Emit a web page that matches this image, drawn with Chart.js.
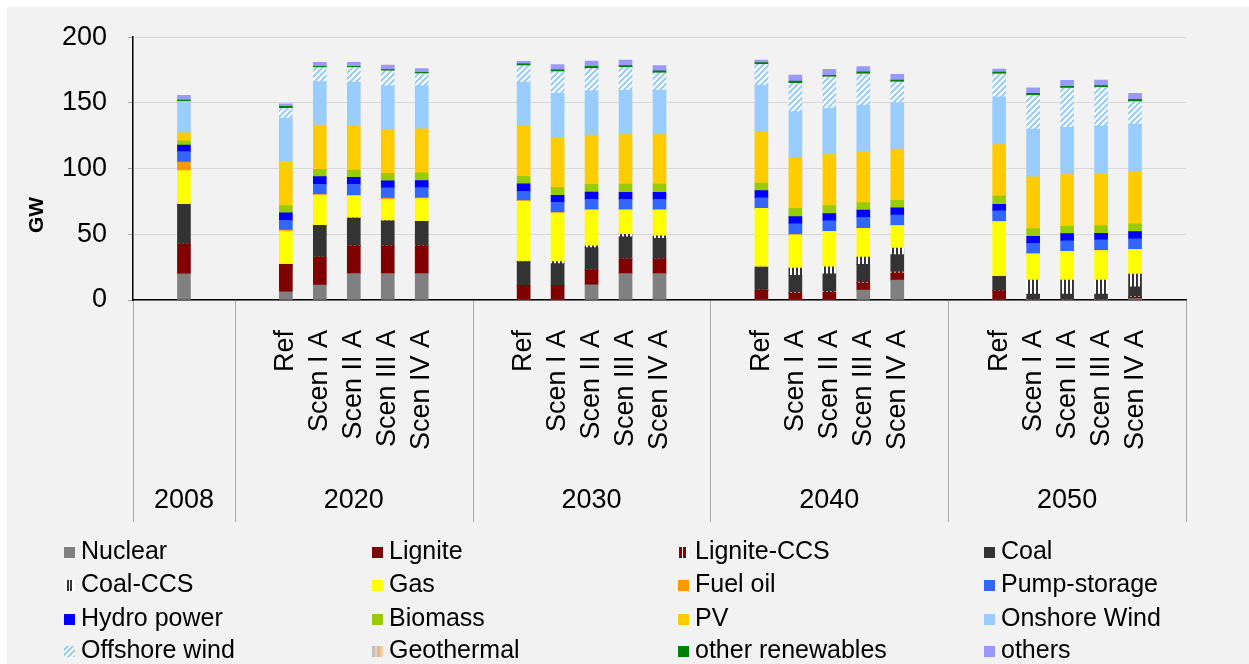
<!DOCTYPE html>
<html>
<head>
<meta charset="utf-8">
<script src="https://cdn.jsdelivr.net/npm/chart.js@4.4.1/dist/chart.umd.min.js"></script>
<style>
  body { margin: 0; background: #fff; font-family: "Liberation Sans", Arial, sans-serif; }
  #wrap { position: relative; width: 1249px; height: 664px; overflow: hidden; }
  #bg { position: absolute; left: 7px; top: 7px; right: 0; bottom: 0; background: #f2f2f2; }
  #myChart { position: absolute; left: 0; top: 0; }
  .leg { position: absolute; font-size: 25px; line-height: 30px; color: #000; white-space: nowrap; }
  .leg i { display: inline-block; width: 11px; height: 11px; margin-right: 6px; vertical-align: 1px; }
</style>
</head>
<body>
<div id="wrap">
  <div id="bg"></div>
  <canvas id="myChart" width="1249" height="664"></canvas>
  <div id="legend"></div>
</div>
<script>
// groups and bar names
var groups = ["2008", "2020", "2030", "2040", "2050"];
var scenarios = ["Ref", "Scen I A", "Scen II A", "Scen III A", "Scen IV A"];

// GW per bar: 2008, then Ref..Scen IV A for 2020, 2030, 2040, 2050
var nuclear    = [20, 6.3, 11.3, 20.1, 20.1, 20.1,  0, 0, 11.6, 20.1, 20.1,  0, 0, 0, 7.5, 15.1,  0, 0, 0, 0, 1];
var lignite    = [22.6, 20.9, 21.4, 21.1, 21.1, 21.1,  11.1, 11.1, 11.6, 11.1, 11.1,  7.5, 5, 5.8, 5.5, 5.5,  7, 0, 0, 0, 1];
var ligniteCCS = [0, 0, 0, 0, 0, 0,  0, 0, 0, 0, 0,  0, 0.5, 0.5, 0.5, 0.7,  0, 0, 0, 0, 0.5];
var coal       = [30.2, 0, 24.2, 21.1, 19.1, 18.6,  18.1, 16.6, 16.6, 16.9, 15.8,  17.6, 13.3, 13.6, 13.6, 13.3,  11.1, 4.5, 4.5, 4.5, 7.6];
var coalCCS    = [0, 0, 0, 0, 0, 0,  0, 1.5, 1.5, 1.8, 1.8,  0, 5.5, 5.3, 5.5, 5,  0, 10.6, 10.6, 10.6, 9.6];
var gas        = [25.6, 25.2, 22.9, 16.9, 16.4, 17.4,  46, 37, 27.2, 18.6, 19.7,  44.6, 25.3, 27.1, 22, 17,  41.5, 20.1, 21.9, 22.6, 18.8];
var fuelOil    = [6.5, 0.8, 0.5, 0.5, 0.8, 0.5,  0.4, 0.4, 0.3, 0.3, 0.3,  0, 0, 0, 0, 0,  0, 0, 0, 0, 0];
var pump       = [8, 7.3, 7.8, 8.3, 7.8, 7.8,  7, 7.8, 7.8, 7.7, 7.7,  8, 8.3, 8, 8.3, 8,  8.3, 8, 8, 8, 8];
var hydro      = [5, 5.8, 5.8, 5.3, 5.3, 5.3,  5.8, 5.3, 5.5, 5.5, 5.5,  5.5, 5.5, 5.5, 5.5, 5.5,  5, 5.3, 5.5, 5, 5.5];
var biomass    = [3.3, 5.5, 5.5, 5.5, 5.8, 6,  5.8, 5.8, 6, 6.3, 6.3,  5.8, 6.3, 6, 5.8, 5.8,  6.3, 5.8, 5.5, 6, 6];
var pv         = [6, 33.2, 33.7, 33.4, 33.4, 33.4,  38, 37.8, 37.5, 37.5, 37.5,  39.3, 38.5, 38.8, 39, 39,  39, 39.5, 39.5, 39.2, 39.1];
var onshore    = [24, 33.4, 33.2, 33.7, 33.2, 33,  33.4, 33.9, 33.5, 33.7, 33.7,  35.2, 35.2, 35.2, 35.2, 35.4,  36.5, 36.2, 36, 36.6, 36.7];
var offshore   = [0, 7.5, 10.6, 11, 11.3, 9,  12.6, 16.4, 17, 17.4, 13.1,  15.6, 21.4, 23.9, 23.2, 15.6,  16.9, 25.5, 29.5, 29.1, 17.1];
var geothermal = [0, 0, 0, 0, 0, 0,  0, 0, 0, 0, 0,  0, 0, 0, 0.5, 0,  0.5, 0, 0.3, 0, 0];
var otherRen   = [1, 1.5, 1, 1, 1, 1,  1.5, 1.5, 1.8, 1.5, 1.8,  1.5, 1.8, 1.3, 1.5, 1.5,  1.3, 1.7, 1.3, 1.5, 1.8];
var others     = [3.5, 1.8, 3, 3, 3.5, 3,  2, 4, 4, 4.2, 4,  2, 4.5, 4.5, 4, 4.3,  2.4, 4.3, 4.5, 4.3, 4.5];

var yTicks = [0, 50, 100, 150, 200];

// slots: 2008 gets [gap, bar, gap], the others [gap, 5 bars, gap]
var labels = [];
var barSlots = [];
var groupSpans = [];
groups.forEach(function(g, gi) {
  var start = labels.length;
  labels.push("");
  if (gi == 0) {
    barSlots.push(labels.length);
    labels.push("");
  } else {
    scenarios.forEach(function(s) {
      barSlots.push(labels.length);
      labels.push(s);
    });
  }
  labels.push("");
  groupSpans.push([start, labels.length - 1]);
});

function toSlots(arr) {
  var out = labels.map(function() { return null; });
  arr.forEach(function(v, i) { out[barSlots[i]] = v; });
  return out;
}

function makePattern(c1, c2, kind) {
  var p = document.createElement('canvas');
  var c = p.getContext('2d');
  if (kind == 'v') {
    p.width = 4; p.height = 4;
    c.fillStyle = c2; c.fillRect(0, 0, 4, 4);
    c.fillStyle = c1; c.fillRect(0, 0, 2, 4);
  } else {
    p.width = 6; p.height = 6;
    c.fillStyle = c2; c.fillRect(0, 0, 6, 6);
    c.strokeStyle = c1; c.lineWidth = 2.2;
    c.beginPath();
    c.moveTo(-1, 7); c.lineTo(7, -1);
    c.moveTo(-4, 4); c.lineTo(4, -4);
    c.moveTo(2, 10); c.lineTo(10, 2);
    c.stroke();
  }
  return c.createPattern(p, 'repeat');
}

var series = [
  ["Nuclear", nuclear, "#808080", "#808080"],
  ["Lignite", lignite, "#800000", "#800000"],
  ["Lignite-CCS", ligniteCCS, makePattern("#800000", "#ffffff", 'v'), "repeating-linear-gradient(90deg,#fff 0 1px,#800000 1px 4px,#fff 4px 5px,#800000 5px 8px,#fff 8px 11px)"],
  ["Coal", coal, "#333333", "#333333"],
  ["Coal-CCS", coalCCS, makePattern("#333333", "#ffffff", 'v'), "repeating-linear-gradient(90deg,#fff 0 3px,#333 3px 5px,#fff 5px 6px,#333 6px 8px,#fff 8px 11px)"],
  ["Gas", gas, "#ffff00", "#ffff00"],
  ["Fuel oil", fuelOil, "#ff9900", "#ff9900"],
  ["Pump-storage", pump, "#3366ff", "#3366ff"],
  ["Hydro power", hydro, "#0000ff", "#0000ff"],
  ["Biomass", biomass, "#99cc00", "#99cc00"],
  ["PV", pv, "#ffcc00", "#ffcc00"],
  ["Onshore Wind", onshore, "#99ccff", "#99ccff"],
  ["Offshore wind", offshore, makePattern("#99ccff", "#ffffff", 'd'), "repeating-linear-gradient(-45deg,#99ccff 0 2px,#fff 2px 4px)"],
  ["Geothermal", geothermal, makePattern("#c0c0c0", "#ffcc99", 'v'), "repeating-linear-gradient(90deg,#c0c0c0 0 3px,#ffcc99 3px 5px,#c0c0c0 5px 8px,#ffcc99 8px 11px)"],
  ["other renewables", otherRen, "#008000", "#008000"],
  ["others", others, "#9999ff", "#9999ff"]
];

var datasets = series.map(function(s) {
  return {
    label: s[0],
    data: toSlots(s[1]),
    backgroundColor: s[2],
    borderWidth: 0,
    barThickness: 13
  };
});

// legend, 4 columns, row by row
var legX = [64, 372, 678, 984];
var legY = [550, 583, 617, 649];
var legend = document.getElementById('legend');
series.forEach(function(s, i) {
  var d = document.createElement('div');
  d.className = 'leg';
  d.style.left = legX[i % 4] + 'px';
  d.style.top = (legY[Math.floor(i / 4)] - 15) + 'px';
  d.innerHTML = '<i style="background:' + s[3] + '"></i>' + s[0];
  legend.appendChild(d);
});

var fontFam = '"Liberation Sans", Arial, sans-serif';

var groupPlugin = {
  id: 'groups',
  afterDraw: function(chart) {
    var ctx = chart.ctx;
    var xs = chart.scales.x;
    var area = chart.chartArea;
    var half = (xs.getPixelForValue(1) - xs.getPixelForValue(0)) / 2;
    ctx.save();
    ctx.strokeStyle = '#a6a6a6';
    ctx.lineWidth = 1;
    ctx.fillStyle = '#000';
    ctx.font = '27px ' + fontFam;
    ctx.textAlign = 'center';
    ctx.textBaseline = 'middle';
    groupSpans.forEach(function(sp, gi) {
      var x0 = xs.getPixelForValue(sp[0]) - half;
      var x1 = xs.getPixelForValue(sp[1]) + half;
      ctx.beginPath();
      ctx.moveTo(Math.round(x0) + 0.5, area.bottom + 1);
      ctx.lineTo(Math.round(x0) + 0.5, 522);
      if (gi == groupSpans.length - 1) {
        ctx.moveTo(Math.round(x1) + 0.5, area.bottom + 1);
        ctx.lineTo(Math.round(x1) + 0.5, 522);
      }
      ctx.stroke();
      ctx.fillText(groups[gi], (x0 + x1) / 2, 501);
    });
    // y axis title
    ctx.translate(37, 215);
    ctx.rotate(-Math.PI / 2);
    ctx.font = 'bold 21px ' + fontFam;
    ctx.fillText('GW', 0, 0);
    ctx.restore();
  }
};

var ctx = document.getElementById("myChart").getContext('2d');
var myChart = new Chart(ctx, {
  type: 'bar',
  data: { labels: labels, datasets: datasets },
  options: {
    responsive: false,
    animation: false,
    devicePixelRatio: 1,
    layout: { padding: { top: 35, right: 63, bottom: 142, left: 0 } },
    plugins: { legend: { display: false }, tooltip: { enabled: false } },
    scales: {
      x: {
        stacked: true,
        grid: { display: false },
        border: { color: '#000', width: 1.5 },
        ticks: {
          autoSkip: false, maxRotation: 90, minRotation: 90,
          color: '#000', padding: 22,
          font: { family: fontFam, size: 27 }
        },
        afterFit: function(scale) { scale.height = 222; }
      },
      y: {
        stacked: true,
        min: 0, max: 200,
        afterBuildTicks: function(scale) {
          scale.ticks = yTicks.map(function(v) { return { value: v }; });
        },
        grid: { color: '#d9d9d9', tickColor: '#a6a6a6', tickLength: 5 },
        border: { color: '#000', width: 1.5 },
        ticks: { color: '#000', padding: 21, font: { family: fontFam, size: 27 } },
        afterFit: function(scale) { scale.width = 133; }
      }
    }
  },
  plugins: [groupPlugin]
});
</script>
</body>
</html>
